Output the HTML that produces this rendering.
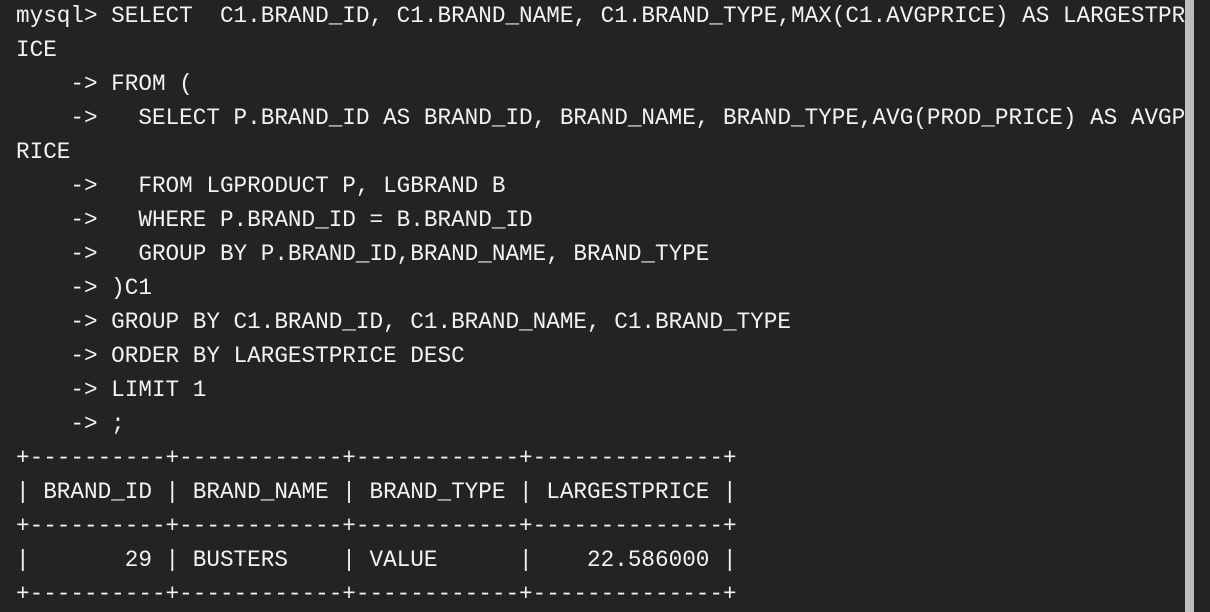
<!DOCTYPE html>
<html><head><meta charset="utf-8"><style>
html,body{margin:0;padding:0;width:1210px;height:612px;overflow:hidden;background:#232323;}
pre{position:absolute;left:16px;top:-1px;margin:0;font-family:"Liberation Mono",monospace;font-size:22.67px;line-height:34px;color:#f2f2f2;white-space:pre;}
.sb{position:absolute;left:1185px;top:0;width:9px;height:612px;background:#bdbdbd;}
</style></head><body>
<pre>mysql&gt; SELECT  C1.BRAND_ID, C1.BRAND_NAME, C1.BRAND_TYPE,MAX(C1.AVGPRICE) AS LARGESTPR
ICE
    -&gt; FROM (
    -&gt;   SELECT P.BRAND_ID AS BRAND_ID, BRAND_NAME, BRAND_TYPE,AVG(PROD_PRICE) AS AVGP
RICE
    -&gt;   FROM LGPRODUCT P, LGBRAND B
    -&gt;   WHERE P.BRAND_ID = B.BRAND_ID
    -&gt;   GROUP BY P.BRAND_ID,BRAND_NAME, BRAND_TYPE
    -&gt; )C1
    -&gt; GROUP BY C1.BRAND_ID, C1.BRAND_NAME, C1.BRAND_TYPE
    -&gt; ORDER BY LARGESTPRICE DESC
    -&gt; LIMIT 1
    -&gt; ;
+----------+------------+------------+--------------+
| BRAND_ID | BRAND_NAME | BRAND_TYPE | LARGESTPRICE |
+----------+------------+------------+--------------+
|       29 | BUSTERS    | VALUE      |    22.586000 |
+----------+------------+------------+--------------+</pre>
<div class="sb"></div>
</body></html>
